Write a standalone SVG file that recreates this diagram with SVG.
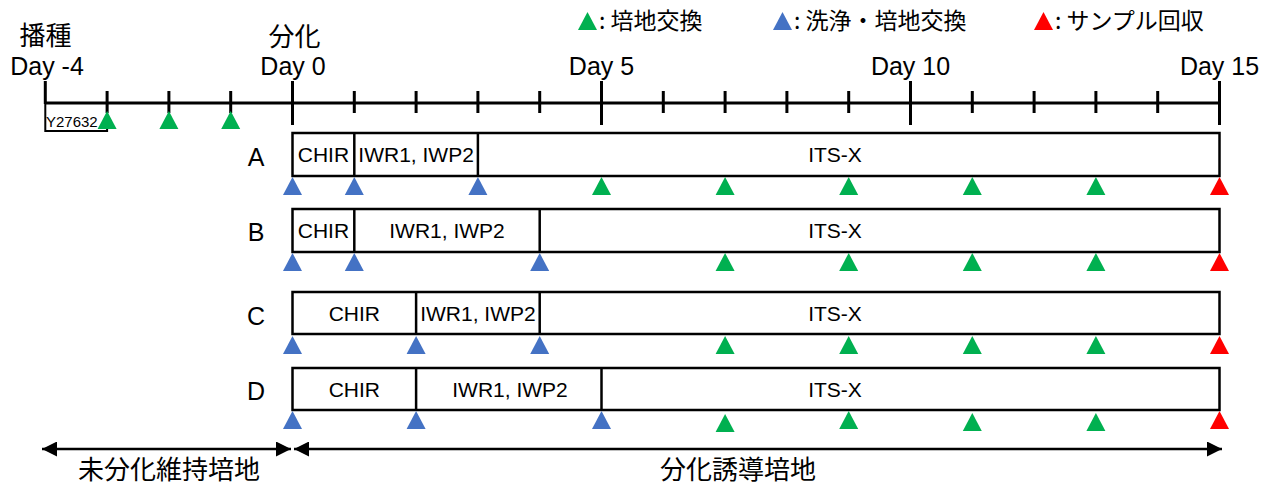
<svg xmlns="http://www.w3.org/2000/svg" xmlns:xlink="http://www.w3.org/1999/xlink" width="1275" height="486" viewBox="0 0 1275 486">
<style>
.lat{font-family:"Liberation Sans",Arial,sans-serif;fill:#000}
.jp{font-family:"Noto Sans CJK JP","Liberation Sans",sans-serif;fill:#000}
.ax{stroke:#000;stroke-width:3;fill:none}
.box{stroke:#000;stroke-width:2.5;fill:#fff}
.dv{stroke:#000;stroke-width:2.5}
.g{fill:#00b050}.b{fill:#4472c4}.r{fill:#ff0000}
.day{font-size:25px;text-anchor:middle}
.bt{font-size:21px;text-anchor:middle}
.rl{font-size:25px;text-anchor:middle}
.lg{font-size:23px}
</style>
<defs>
<path id="tri" d="M0,0 L9.5,18 L-9.5,18 Z"/>
<marker id="ah" viewBox="0 0 15 15" refX="15" refY="7.5" markerWidth="15" markerHeight="15" markerUnits="userSpaceOnUse" orient="auto-start-reverse">
<path d="M0,0 L15,7.5 L0,15 Z" fill="#000"/>
</marker>
</defs>

<g id="legend">
<use href="#tri" x="587.5" y="12" class="g"/>
<text class="jp lg" x="599" y="29">: 培地交換</text>
<use href="#tri" x="782.5" y="12" class="b"/>
<text class="jp lg" x="794" y="29">: 洗浄・培地交換</text>
<use href="#tri" x="1043.5" y="12" class="r"/>
<text class="jp lg" x="1055" y="29">: サンプル回収</text>
</g>

<g id="timeline">
<text class="jp" x="45.5" y="45" font-size="26" text-anchor="middle">播種</text>
<text class="jp" x="294.5" y="46" font-size="26" text-anchor="middle">分化</text>
<text class="lat day" x="47" y="75">Day -4</text>
<text class="lat day" x="293" y="75">Day 0</text>
<text class="lat day" x="601.5" y="75">Day 5</text>
<text class="lat day" x="910.5" y="75">Day 10</text>
<text class="lat day" x="1219.5" y="75">Day 15</text>
<line class="ax" x1="45.3" y1="103" x2="1219.5" y2="103"/>
<line class="ax" x1="45.3" y1="81" x2="45.3" y2="104"/>
<line class="ax" x1="292.5" y1="81" x2="292.5" y2="125"/>
<line class="ax" x1="601.5" y1="81" x2="601.5" y2="125"/>
<line class="ax" x1="910.5" y1="81" x2="910.5" y2="125"/>
<line class="ax" x1="1219.5" y1="81" x2="1219.5" y2="125"/>
<g class="ax">
<line x1="107.1" y1="91" x2="107.1" y2="113"/>
<line x1="168.9" y1="91" x2="168.9" y2="113"/>
<line x1="230.7" y1="91" x2="230.7" y2="113"/>
<line x1="354.3" y1="91" x2="354.3" y2="113"/>
<line x1="416.1" y1="91" x2="416.1" y2="113"/>
<line x1="477.9" y1="91" x2="477.9" y2="113"/>
<line x1="539.7" y1="91" x2="539.7" y2="113"/>
<line x1="663.3" y1="91" x2="663.3" y2="113"/>
<line x1="725.1" y1="91" x2="725.1" y2="113"/>
<line x1="786.9" y1="91" x2="786.9" y2="113"/>
<line x1="848.7" y1="91" x2="848.7" y2="113"/>
<line x1="972.3" y1="91" x2="972.3" y2="113"/>
<line x1="1034.1" y1="91" x2="1034.1" y2="113"/>
<line x1="1095.9" y1="91" x2="1095.9" y2="113"/>
<line x1="1157.7" y1="91" x2="1157.7" y2="113"/>
</g>
<rect x="45.3" y="103" width="61.8" height="28" fill="none" stroke="#000" stroke-width="2"/>
<text class="lat" x="46" y="127" font-size="15">Y27632</text>
<use href="#tri" x="107.1" y="111" class="g"/>
<use href="#tri" x="168.9" y="111" class="g"/>
<use href="#tri" x="230.7" y="111" class="g"/>
</g>

<g id="rowA">
<text class="lat rl" x="256" y="166">A</text>
<rect class="box" x="292.5" y="133" width="927" height="43"/>
<line class="dv" x1="354.3" y1="133" x2="354.3" y2="176"/>
<line class="dv" x1="477.9" y1="133" x2="477.9" y2="176"/>
<text class="lat bt" x="323.4" y="162">CHIR</text>
<text class="lat bt" x="416.1" y="162">IWR1, IWP2</text>
<text class="lat bt" x="835" y="162">ITS-X</text>
<use href="#tri" x="292.5" y="177" class="b"/>
<use href="#tri" x="354.3" y="177" class="b"/>
<use href="#tri" x="477.9" y="177" class="b"/>
<use href="#tri" x="601.5" y="177" class="g"/>
<use href="#tri" x="725.1" y="177" class="g"/>
<use href="#tri" x="848.7" y="177" class="g"/>
<use href="#tri" x="972.3" y="177" class="g"/>
<use href="#tri" x="1095.9" y="177" class="g"/>
<use href="#tri" x="1219.5" y="177" class="r"/>
</g>

<g id="rowB">
<text class="lat rl" x="256" y="241">B</text>
<rect class="box" x="292.5" y="209" width="927" height="43"/>
<line class="dv" x1="354.3" y1="209" x2="354.3" y2="252"/>
<line class="dv" x1="539.7" y1="209" x2="539.7" y2="252"/>
<text class="lat bt" x="323.4" y="238">CHIR</text>
<text class="lat bt" x="447" y="238">IWR1, IWP2</text>
<text class="lat bt" x="835" y="238">ITS-X</text>
<use href="#tri" x="292.5" y="253" class="b"/>
<use href="#tri" x="354.3" y="253" class="b"/>
<use href="#tri" x="539.7" y="253" class="b"/>
<use href="#tri" x="725.1" y="253" class="g"/>
<use href="#tri" x="848.7" y="253" class="g"/>
<use href="#tri" x="972.3" y="253" class="g"/>
<use href="#tri" x="1095.9" y="253" class="g"/>
<use href="#tri" x="1219.5" y="253" class="r"/>
</g>

<g id="rowC">
<text class="lat rl" x="256" y="325">C</text>
<rect class="box" x="292.5" y="292" width="927" height="42"/>
<line class="dv" x1="416.1" y1="292" x2="416.1" y2="334"/>
<line class="dv" x1="539.7" y1="292" x2="539.7" y2="334"/>
<text class="lat bt" x="354.3" y="321">CHIR</text>
<text class="lat bt" x="477.9" y="321">IWR1, IWP2</text>
<text class="lat bt" x="835" y="321">ITS-X</text>
<use href="#tri" x="292.5" y="336" class="b"/>
<use href="#tri" x="416.1" y="336" class="b"/>
<use href="#tri" x="539.7" y="336" class="b"/>
<use href="#tri" x="725.1" y="336" class="g"/>
<use href="#tri" x="848.7" y="336" class="g"/>
<use href="#tri" x="972.3" y="336" class="g"/>
<use href="#tri" x="1095.9" y="336" class="g"/>
<use href="#tri" x="1219.5" y="336" class="r"/>
</g>

<g id="rowD">
<text class="lat rl" x="256" y="400">D</text>
<rect class="box" x="292.5" y="368" width="927" height="42"/>
<line class="dv" x1="416.1" y1="368" x2="416.1" y2="410"/>
<line class="dv" x1="601.5" y1="368" x2="601.5" y2="410"/>
<text class="lat bt" x="354.3" y="397">CHIR</text>
<text class="lat bt" x="510" y="397">IWR1, IWP2</text>
<text class="lat bt" x="835" y="397">ITS-X</text>
<use href="#tri" x="292.5" y="411" class="b"/>
<use href="#tri" x="416.1" y="411" class="b"/>
<use href="#tri" x="601.5" y="411" class="b"/>
<use href="#tri" x="725.1" y="414" class="g"/>
<use href="#tri" x="848.7" y="411" class="g"/>
<use href="#tri" x="972.3" y="413" class="g"/>
<use href="#tri" x="1095.9" y="413" class="g"/>
<use href="#tri" x="1219.5" y="411" class="r"/>
</g>

<g id="connectors">
<line x1="42" y1="449" x2="291" y2="449" stroke="#000" stroke-width="2.5" marker-start="url(#ah)" marker-end="url(#ah)"/>
<line x1="294" y1="449" x2="1222" y2="449" stroke="#000" stroke-width="2.5" marker-start="url(#ah)" marker-end="url(#ah)"/>
</g>

<g id="phaseLabels">
<text class="jp" x="169" y="479" font-size="26" text-anchor="middle">未分化維持培地</text>
<text class="jp" x="738" y="479" font-size="26" text-anchor="middle">分化誘導培地</text>
</g>
</svg>
